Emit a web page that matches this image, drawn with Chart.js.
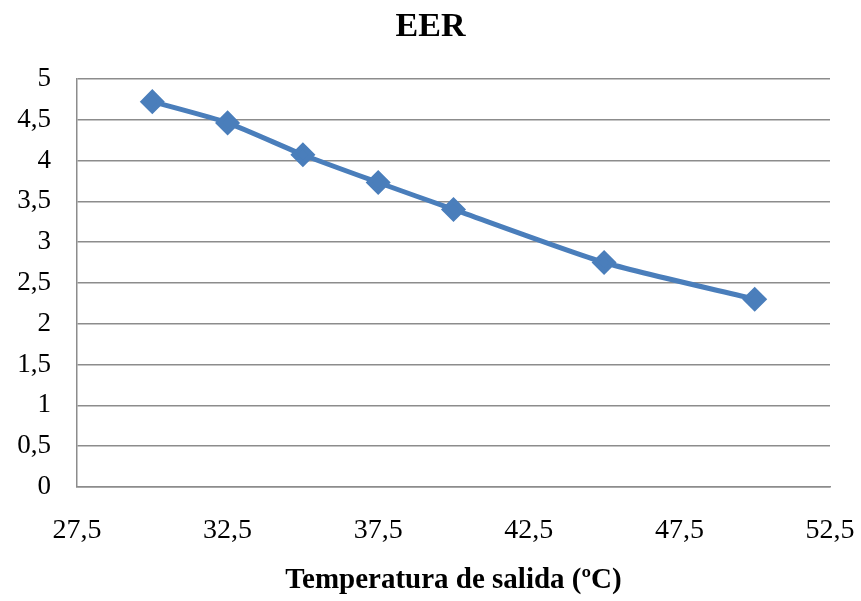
<!DOCTYPE html>
<html>
<head>
<meta charset="utf-8">
<script src="https://cdn.jsdelivr.net/npm/chart.js@4"></script>
<style>
    html, body { margin: 0; padding: 0; background: #fff; }
    #wrap { width: 861px; height: 601px; }
</style>
</head>
<body>
<div id="wrap"><canvas id="eerChart" width="861" height="601"></canvas></div>
<script>
// Temperatura de salida (ºC) and EER
const temperatures = [30, 32.5, 35, 37.5, 40, 45, 50];
const eerValues = [4.72, 4.46, 4.07, 3.73, 3.40, 2.75, 2.30];
const xTicks = [27.5, 32.5, 37.5, 42.5, 47.5, 52.5];
const yTicks = [0, 0.5, 1, 1.5, 2, 2.5, 3, 3.5, 4, 4.5, 5];

const comma = v => String(v).replace('.', ',');
const gridColor = '#8c8c8c';
const serif = 'Liberation Serif, Times New Roman, serif';

document.addEventListener('DOMContentLoaded', function() {
    const ctx = document.getElementById('eerChart').getContext('2d');
    new Chart(ctx, {
        type: 'line',
        data: {
            datasets: [{
                label: 'EER',
                data: temperatures.map((t, i) => ({ x: t, y: eerValues[i] })),
                borderColor: '#4a7ebb',
                backgroundColor: '#4a7ebb',
                borderWidth: 5,
                tension: 0.2,
                pointStyle: 'rectRot',
                pointRadius: 9,
                pointHoverRadius: 9
            }]
        },
        options: {
            responsive: false,
            animation: false,
            layout: { padding: { left: 0, right: 0, top: 0, bottom: 3 } },
            scales: {
                x: {
                    type: 'linear',
                    min: xTicks[0],
                    max: xTicks[xTicks.length - 1],
                    afterBuildTicks: function(scale) {
                        scale.ticks = xTicks.map(v => ({ value: v }));
                    },
                    afterFit: function(scale) {
                        scale.height = 111;
                        scale.paddingLeft = 0;
                        scale.paddingRight = 31;
                    },
                    grid: { display: false, drawTicks: false },
                    border: { display: true, color: gridColor, width: 1.5 },
                    ticks: {
                        padding: 27,
                        color: '#000',
                        font: { family: serif, size: 28 },
                        callback: v => comma(v)
                    },
                    title: {
                        display: true,
                        text: 'Temperatura de salida (ºC)',
                        color: '#000',
                        font: { family: serif, size: 29, weight: 'bold' },
                        padding: { top: 17, bottom: 0 }
                    }
                },
                y: {
                    min: 0,
                    max: 5,
                    afterBuildTicks: function(scale) {
                        scale.ticks = yTicks.map(v => ({ value: v }));
                    },
                    afterFit: function(scale) { scale.width = 77; },
                    grid: { color: gridColor, lineWidth: 1.5, drawTicks: false },
                    border: { display: true, color: gridColor, width: 1.5 },
                    ticks: {
                        padding: 26,
                        color: '#000',
                        font: { family: serif, size: 27 },
                        callback: v => comma(v)
                    }
                }
            },
            plugins: {
                legend: { display: false },
                tooltip: { enabled: false },
                title: {
                    display: true,
                    text: 'EER',
                    color: '#000',
                    font: { family: serif, size: 34, weight: 'bold' },
                    padding: { top: 7, bottom: 31 }
                }
            }
        }
    });
});
</script>
</body>
</html>
